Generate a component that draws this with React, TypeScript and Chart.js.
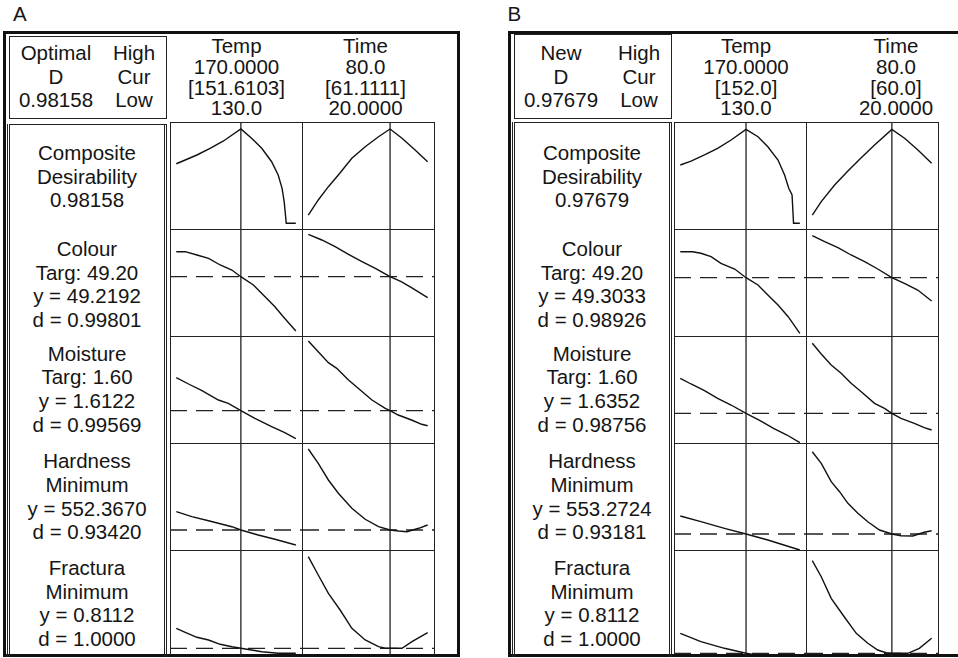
import React, { useEffect, useRef } from "react";
import { Chart, registerables } from "chart.js";

Chart.register(...registerables);

const FONT = '"Liberation Sans", Arial, Helvetica, sans-serif';
const FS = 20.5;

// ---------- factor ranges / current settings ----------
const tempAxis = [127.9, 172.4];
const timeAxis = [16.83, 83.7];
const currentA = [151.6103, 61.1111];
const currentB = [152.0, 60.0];

// ---------- Panel A curves ----------
const aCompTempX = [130, 133, 136.9, 141.3, 145.8, 151.61, 155.2, 158.6, 161.9, 164.1, 165.4, 166.1, 166.8, 170];
const aCompTempY = [0.62, 0.659, 0.711, 0.781, 0.857, 0.98158, 0.885, 0.781, 0.641, 0.503, 0.364, 0.225, 0, 0];
const aCompTimeX = [20, 25, 30.1, 35.1, 41.9, 48.6, 55.3, 61.11, 67.1, 73.7, 80];
const aCompTimeY = [0.086, 0.243, 0.381, 0.503, 0.677, 0.797, 0.901, 0.98158, 0.885, 0.763, 0.641];

const aColTempX = [130, 133, 136.9, 140.8, 144.7, 148.6, 151.61, 155.8, 159.7, 163, 165.8, 170];
const aColTempY = [51.72, 51.72, 51.39, 51.06, 50.39, 49.89, 49.2192, 48.39, 47.22, 46.22, 45.22, 43.79];
const aColTimeX = [20, 26.8, 33.5, 40.2, 47, 53.7, 61.11, 66.7, 72.5, 80];
const aColTimeY = [53.46, 52.89, 52.22, 51.46, 50.72, 50.06, 49.2192, 48.72, 48.06, 47.12];

const aMoiTempX = [130, 134.1, 138.6, 144.1, 147.4, 151.61, 156.3, 161.9, 166.3, 170];
const aMoiTempY = [1.7772, 1.7457, 1.7122, 1.6657, 1.6492, 1.6122, 1.5742, 1.5322, 1.5022, 1.4722];
const aMoiTimeX = [20, 25, 30.1, 34.3, 40.2, 46.1, 52, 58.7, 61.11, 65.2, 71.9, 77, 80];
const aMoiTimeY = [1.9607, 1.9072, 1.8522, 1.8242, 1.7657, 1.7157, 1.6657, 1.6242, 1.6122, 1.5907, 1.5657, 1.5442, 1.5372];

const aHarTempX = [130, 135.2, 140.8, 148.6, 151.61, 157.4, 163, 170];
const aHarTempY = [588.97, 578.97, 570.97, 558.97, 552.367, 542.37, 533.77, 522.37];
const aHarTimeX = [20, 25, 30.1, 35.1, 41.9, 48.6, 55.3, 61.11, 65.4, 69.6, 75.5, 80];
const aHarTimeY = [714.4, 685.8, 652.4, 625.8, 595.8, 573.8, 559.0, 552.367, 550.4, 549.0, 555.8, 562.4];

const aFraTempX = [130, 133, 136.9, 140.8, 144.7, 148.6, 151.61, 155.2, 158.6, 164.1, 170];
const aFraTempY = [1.0112, 0.9712, 0.9212, 0.8942, 0.8512, 0.8272, 0.8112, 0.7942, 0.7772, 0.7612, 0.7612];
const aFraTimeX = [20, 25, 30.1, 36, 41.9, 48.6, 55.3, 58.7, 67.1, 72.1, 80];
const aFraTimeY = [1.7272, 1.5442, 1.3612, 1.1942, 1.0112, 0.8942, 0.8272, 0.8112, 0.8112, 0.8772, 0.9672];

// ---------- Panel B curves ----------
const bCompTempX = [130, 133.6, 138.1, 142.5, 147, 152, 156, 159.3, 162.7, 164.9, 166.3, 167.4, 167.9, 170];
const bCompTempY = [0.607, 0.648, 0.711, 0.781, 0.867, 0.97679, 0.901, 0.797, 0.659, 0.503, 0.364, 0.295, 0, 0];
const bCompTimeX = [20, 24.5, 31.2, 37.9, 44.6, 51.3, 60, 66.4, 73.1, 80];
const bCompTimeY = [0.086, 0.225, 0.399, 0.545, 0.683, 0.815, 0.97679, 0.885, 0.763, 0.625];

const bColTempX = [130, 134.1, 136.9, 140.3, 143.6, 148.2, 152, 156, 159.3, 162.7, 166.1, 170];
const bColTempY = [51.903, 51.903, 51.743, 51.403, 50.743, 50.173, 49.3033, 48.573, 47.573, 46.573, 45.403, 43.743];
const bColTimeX = [20, 26.2, 32.9, 39.5, 46.3, 52.9, 60, 66.3, 73, 80];
const bColTimeY = [53.503, 52.903, 52.303, 51.573, 50.903, 50.173, 49.3033, 48.743, 48.073, 46.973];

const bMoiTempX = [130, 133.6, 138.1, 142.5, 147, 152, 156.7, 161.2, 165.7, 170];
const bMoiTempY = [1.8102, 1.7817, 1.7482, 1.7102, 1.6767, 1.6352, 1.5982, 1.5602, 1.5267, 1.4882];
const bMoiTimeX = [20, 24.5, 29.5, 34.5, 39.5, 44.6, 51.3, 56.3, 60, 64.6, 71.3, 76.3, 80];
const bMoiTimeY = [1.9852, 1.9317, 1.8767, 1.8352, 1.7852, 1.7432, 1.6852, 1.6602, 1.6352, 1.6102, 1.5852, 1.5632, 1.5517];

const bHarTempX = [130, 136.9, 144.8, 152, 159.3, 170];
const bHarTempY = [589.27, 577.87, 564.67, 553.2724, 541.27, 521.27];
const bHarTimeX = [20, 24.5, 29.5, 33.7, 37.9, 42.9, 47.9, 53.8, 60, 64.6, 70.5, 76.3, 80];
const bHarTimeY = [717.87, 694.67, 657.87, 637.87, 614.67, 594.67, 577.87, 561.27, 553.2724, 549.87, 549.27, 556.67, 559.87];

const bFraTempX = [130, 136.9, 144.8, 152, 157];
const bFraTempY = [1.0112, 0.9272, 0.8612, 0.8112, 0.7842];
const bFraTimeX = [20, 24.5, 29.5, 35.4, 42.1, 47.9, 52.9, 57.1, 60, 68, 73.8, 80];
const bFraTimeY = [1.7372, 1.5772, 1.3612, 1.1942, 1.0112, 0.9112, 0.8442, 0.8172, 0.8112, 0.8112, 0.8612, 0.9612];

// ---------- response axis ranges (per row) and current response values ----------
const yRangesA = [[-0.0697, 1.0544], [43.189, 53.989], [1.4457, 1.9857], [510.367, 726.367], [0.7342, 1.7942]];
const yRangesB = [[-0.0697, 1.0544], [43.373, 54.173], [1.4817, 2.0217], [519.27, 735.27], [0.7842, 1.8442]];
const currentYA = [null, 49.2192, 1.6122, 552.367, 0.8112];
const currentYB = [null, 49.3033, 1.6352, 553.2724, 0.8112];

// ---------- texts ----------
const headerA = { left: ["Optimal", "D", "0.98158"], right: ["High", "Cur", "Low"] };
const headerB = { left: ["New", "D", "0.97679"], right: ["High", "Cur", "Low"] };
const factorTextA = [["Temp", "170.0000", "[151.6103]", "130.0"], ["Time", "80.0", "[61.1111]", "20.0000"]];
const factorTextB = [["Temp", "170.0000", "[152.0]", "130.0"], ["Time", "80.0", "[60.0]", "20.0000"]];
const rowLabelsA = [
  ["Composite", "Desirability", "0.98158"],
  ["Colour", "Targ: 49.20", "y = 49.2192", "d = 0.99801"],
  ["Moisture", "Targ: 1.60", "y = 1.6122", "d = 0.99569"],
  ["Hardness", "Minimum", "y = 552.3670", "d = 0.93420"],
  ["Fractura", "Minimum", "y = 0.8112", "d = 1.0000"],
];
const rowLabelsB = [
  ["Composite", "Desirability", "0.97679"],
  ["Colour", "Targ: 49.20", "y = 49.3033", "d = 0.98926"],
  ["Moisture", "Targ: 1.60", "y = 1.6352", "d = 0.98756"],
  ["Hardness", "Minimum", "y = 553.2724", "d = 0.93181"],
  ["Fractura", "Minimum", "y = 0.8112", "d = 1.0000"],
];

// ---------- layout ----------
const ROW_TOPS = [122, 229, 336, 443, 550, 655];
const CELL_W = 132;
const LABEL_BASE = [160, 256, 360.7, 468.3, 575];

type CellProps = {
  left: number; top: number; w: number; h: number;
  xs: number[]; ys: number[]; xr: number[]; yr: number[];
  cur: number; dash: number | null;
};

function Cell(p: CellProps) {
  const ref = useRef<HTMLCanvasElement | null>(null);
  useEffect(() => {
    if (!ref.current) return;
    const datasets: any[] = [
      {
        data: p.xs.map((x, i) => ({ x, y: p.ys[i] })),
        showLine: true, borderColor: "#111", borderWidth: 1.4, pointRadius: 0, tension: 0,
      },
      {
        data: [{ x: p.cur, y: p.yr[0] }, { x: p.cur, y: p.yr[1] }],
        showLine: true, borderColor: "#222", borderWidth: 1.3, pointRadius: 0,
      },
    ];
    if (p.dash !== null) {
      datasets.push({
        data: [{ x: p.xr[0], y: p.dash }, { x: p.xr[1], y: p.dash }],
        showLine: true, borderColor: "#222", borderWidth: 1.3, pointRadius: 0, borderDash: [17, 9],
      });
    }
    const chart = new Chart(ref.current, {
      type: "scatter",
      data: { datasets },
      options: {
        responsive: false,
        animation: false,
        devicePixelRatio: 1,
        layout: { padding: 0 },
        events: [],
        plugins: { legend: { display: false }, tooltip: { enabled: false } },
        scales: {
          x: { type: "linear", min: p.xr[0], max: p.xr[1], display: false },
          y: { type: "linear", min: p.yr[0], max: p.yr[1], display: false },
        },
      },
    });
    return () => chart.destroy();
  }, []);
  return (
    <canvas
      ref={ref}
      width={p.w}
      height={p.h}
      style={{ position: "absolute", left: p.left, top: p.top, width: p.w, height: p.h }}
    />
  );
}

function Lines({ lines, cx, top, lh }: { lines: string[]; cx: number; top: number; lh: number }) {
  return (
    <div
      style={{
        position: "absolute", left: cx - 100, top, width: 200, textAlign: "center",
        fontFamily: FONT, fontSize: FS, lineHeight: lh + "px", color: "#151515", whiteSpace: "pre",
      }}
    >
      {lines.map((l, i) => (
        <div key={i}>{l}</div>
      ))}
    </div>
  );
}

type PanelProps = {
  letter: string; letterX: number; frameX: number; frameW: number;
  hdrBox: number[]; labBox: number[]; gx: number;
  header: { left: string[]; right: string[] }; factorText: string[][]; factorCx: number[];
  rowLabels: string[][];
  curves: number[][][][]; yRanges: number[][]; current: number[]; currentY: (number | null)[];
};

function Panel(p: PanelProps) {
  const lc = "#222";
  const els: React.ReactNode[] = [];
  for (let r = 0; r < 5; r++) {
    for (let f = 0; f < 2; f++) {
      const [xs, ys] = p.curves[r][f];
      els.push(
        <Cell
          key={`c${r}${f}`}
          left={p.gx + f * CELL_W}
          top={ROW_TOPS[r]}
          w={CELL_W + 1}
          h={ROW_TOPS[r + 1] - ROW_TOPS[r] + 1}
          xs={xs} ys={ys}
          xr={f === 0 ? tempAxis : timeAxis}
          yr={p.yRanges[r]}
          cur={p.current[f]}
          dash={p.currentY[r]}
        />
      );
    }
  }
  for (let i = 0; i < 3; i++) {
    els.push(
      <div key={`v${i}`} style={{ position: "absolute", left: p.gx + i * CELL_W, top: ROW_TOPS[0], width: 1, height: ROW_TOPS[5] - ROW_TOPS[0], background: lc }} />
    );
  }
  for (let r = 0; r < 5; r++) {
    els.push(
      <div key={`h${r}`} style={{ position: "absolute", left: p.gx, top: ROW_TOPS[r], width: 2 * CELL_W + 1, height: 1, background: lc }} />
    );
  }
  return (
    <>
      <div style={{ position: "absolute", left: p.letterX, top: 4.4, fontFamily: FONT, fontSize: FS, lineHeight: FS + "px", color: "#151515" }}>
        {p.letter}
      </div>
      <div style={{ position: "absolute", left: p.frameX, top: 31, width: p.frameW, height: 626, border: "3px solid #111", boxSizing: "border-box" }} />
      <div style={{ position: "absolute", left: p.hdrBox[0], top: p.hdrBox[1], width: p.hdrBox[2], height: p.hdrBox[3], border: "1px solid #222", boxSizing: "border-box" }} />
      <div style={{ position: "absolute", left: p.labBox[0], top: p.labBox[1], width: p.labBox[2], height: p.labBox[3], borderTop: "1px solid #222", borderLeft: "3px double #222", borderRight: "3px double #222", boxSizing: "border-box" }} />
      <Lines lines={p.header.left} cx={p.hdrBox[0] + 47} top={41.1} lh={23.65} />
      <Lines lines={p.header.right} cx={p.hdrBox[0] + 125} top={41.1} lh={23.65} />
      <Lines lines={p.factorText[0]} cx={p.factorCx[0]} top={35.75} lh={20.9} />
      <Lines lines={p.factorText[1]} cx={p.factorCx[1]} top={35.75} lh={20.9} />
      {p.rowLabels.map((lines, r) => (
        <Lines key={`l${r}`} lines={lines} cx={p.labBox[0] + p.labBox[2] / 2} top={LABEL_BASE[r] - 18.9} lh={23.6} />
      ))}
      {els}
    </>
  );
}

export default function App() {
  const curvesA = [
    [[aCompTempX, aCompTempY], [aCompTimeX, aCompTimeY]],
    [[aColTempX, aColTempY], [aColTimeX, aColTimeY]],
    [[aMoiTempX, aMoiTempY], [aMoiTimeX, aMoiTimeY]],
    [[aHarTempX, aHarTempY], [aHarTimeX, aHarTimeY]],
    [[aFraTempX, aFraTempY], [aFraTimeX, aFraTimeY]],
  ];
  const curvesB = [
    [[bCompTempX, bCompTempY], [bCompTimeX, bCompTimeY]],
    [[bColTempX, bColTempY], [bColTimeX, bColTimeY]],
    [[bMoiTempX, bMoiTempY], [bMoiTimeX, bMoiTimeY]],
    [[bHarTempX, bHarTempY], [bHarTimeX, bHarTimeY]],
    [[bFraTempX, bFraTempY], [bFraTimeX, bFraTimeY]],
  ];
  return (
    <div style={{ position: "fixed", left: 0, top: 0, width: 958, height: 658, overflow: "hidden", background: "#fff" }}>
      <Panel
        letter="A" letterX={13} frameX={3} frameW={457}
        hdrBox={[9, 36, 158, 83]} labBox={[7, 124, 160, 533]} gx={170}
        header={headerA} factorText={factorTextA} factorCx={[236.5, 365.5]}
        rowLabels={rowLabelsA} curves={curvesA} yRanges={yRangesA} current={currentA} currentY={currentYA}
      />
      <Panel
        letter="B" letterX={507.5} frameX={508} frameW={470}
        hdrBox={[514, 34, 158, 85]} labBox={[512, 122, 160, 535]} gx={674}
        header={headerB} factorText={factorTextB} factorCx={[746, 896]}
        rowLabels={rowLabelsB} curves={curvesB} yRanges={yRangesB} current={currentB} currentY={currentYB}
      />
    </div>
  );
}
